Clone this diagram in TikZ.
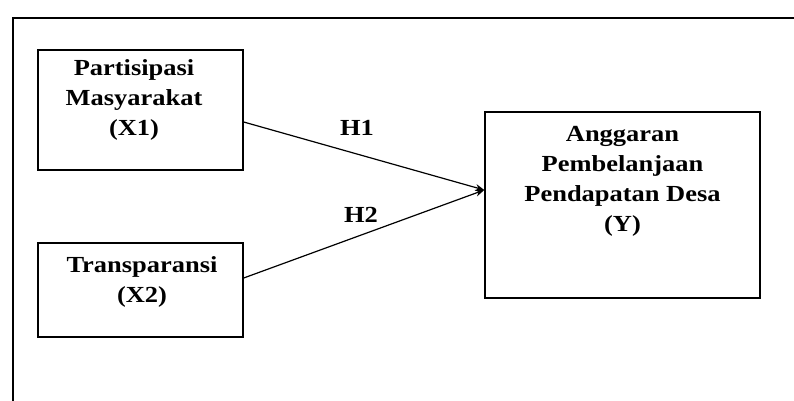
\documentclass[tikz,border=0pt]{standalone}
\usepackage{fontspec}
\setmainfont{Liberation Serif}[FakeStretch=1.15]
\usetikzlibrary{arrows.meta}
\begin{document}
\begin{tikzpicture}[x=1pt,y=-1pt,
  varbox/.style={draw=black,line width=1.4pt,rectangle,inner sep=0pt},
  vartext/.style={align=center,font=\fontsize{23}{30}\selectfont\bfseries,inner sep=0pt},
  hlabel/.style={font=\fontsize{23}{26}\selectfont\bfseries,inner sep=0pt},
  link/.style={line width=1.2pt,-{Stealth[length=9pt,width=7pt]}},
  frameline/.style={line width=1.6pt}]
\useasboundingbox (0,0) rectangle (794,401);
% frame
\coordinate (ftl) at (13,18);
\coordinate (ftr) at (794,18);
\coordinate (fbl) at (13,401);
\draw[frameline] (ftr) -- (ftl) -- (fbl);
% boxes
\node[varbox,minimum width=205pt,minimum height=120pt] (x1) at (140.5,110) {};
\node[varbox,minimum width=205pt,minimum height=94pt] (x2) at (140.5,290) {};
\node[varbox,minimum width=275pt,minimum height=186pt] (y) at (622.5,205) {};
% texts
\node[vartext] (tx1) at (134,100) {Partisipasi\\Masyarakat\\(X1)};
\node[vartext] (tx2) at (142,282) {Transparansi\\(X2)};
\node[vartext] (ty) at (622.5,181) {Anggaran\\Pembelanjaan\\Pendapatan Desa\\(Y)};
% connector endpoints
\coordinate (s1) at (x1.east |- 0,122);
\coordinate (s2) at (x2.east |- 0,278);
\coordinate (tip) at (y.west |- 0,190);
\draw[link] (s1) -- (tip);
\draw[link] (s2) -- (tip);
\node[hlabel] (h1) at (357,128) {H1};
\node[hlabel] (h2) at (361,215) {H2};
\end{tikzpicture}
\end{document}
